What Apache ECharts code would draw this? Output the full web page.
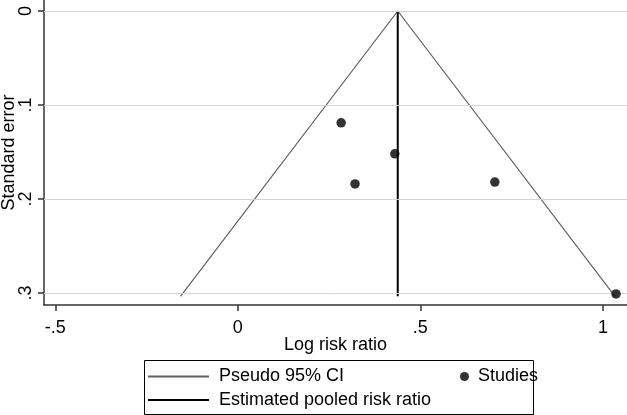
<!DOCTYPE html>
<html><head><meta charset="utf-8">
<script src="https://cdn.jsdelivr.net/npm/echarts@6/dist/echarts.min.js"></script>
<style>html,body{margin:0;padding:0;background:#fff}#c{width:627px;height:415px}</style>
</head><body><div id="c"></div>
<script>
// Data
const studyLogRR = [0.283, 0.430, 0.321, 0.704, 1.036];
const studySE    = [0.119, 0.152, 0.184, 0.182, 0.301];
const pooledLogRR = 0.438;
const maxSE = 0.3036;
const xTicks = [-0.5, 0, 0.5, 1];
const yTicks = [0, 0.1, 0.2, 0.3];
const xTickLabels = ['-.5', '0', '.5', '1'];
const yTickLabels = ['0', '.1', '.2', '.3'];

const studies = studyLogRR.map((x, i) => [x, studySE[i]]);
const funnel = [
  [pooledLogRR - 1.96 * maxSE, maxSE],
  [pooledLogRR, 0],
  [pooledLogRR + 1.96 * maxSE, maxSE]
];
const pooledLine = [[pooledLogRR, 0], [pooledLogRR, maxSE]];
const lab = (vals, labels) => v => { const i = vals.findIndex(t => Math.abs(t - v) < 1e-9); return i >= 0 ? labels[i] : ''; };

const FONT = 'Liberation Sans, Arial, sans-serif';
const chart = echarts.init(document.getElementById('c'), null, {renderer: 'canvas'});
chart.setOption({
  animation: false,
  backgroundColor: '#fff',
  grid: {left: 44, right: 0, top: 0, bottom: 110, containLabel: false, outerBoundsMode: 'none'},
  xAxis: {
    type: 'value', min: -0.531, max: 1.066,
    name: 'Log risk ratio', nameLocation: 'middle', nameGap: 40, nameMoveOverlap: false,
    nameTextStyle: {fontFamily: FONT, fontSize: 18, color: '#000', verticalAlign: 'middle'},
    axisLine: {onZero: false, lineStyle: {color: '#333', width: 1.5}},
    axisTick: {show: true, customValues: xTicks, length: 6, lineStyle: {color: '#333', width: 1.5}},
    axisLabel: {customValues: xTicks, formatter: lab(xTicks, xTickLabels), fontFamily: FONT, fontSize: 18, color: '#000', margin: 14},
    splitLine: {show: false}
  },
  yAxis: {
    type: 'value', inverse: true, min: -0.0117, max: 0.3128,
    name: 'Standard error', nameLocation: 'middle', nameGap: 35, nameRotate: 90, nameMoveOverlap: false,
    nameTextStyle: {fontFamily: FONT, fontSize: 18, color: '#000', verticalAlign: 'middle'},
    axisLine: {show: true, onZero: false, lineStyle: {color: '#333', width: 1.5}},
    axisTick: {show: true, customValues: yTicks, length: 6, lineStyle: {color: '#333', width: 1.5}},
    axisLabel: {customValues: yTicks, formatter: lab(yTicks, yTickLabels), rotate: 90, fontFamily: FONT, fontSize: 18, color: '#000', margin: 9},
    splitLine: {show: false}
  },
  legend: [
    {data: ['Pseudo 95% CI', 'Estimated pooled risk ratio'], orient: 'vertical', left: 147, top: 367.5, padding: 0,
     itemWidth: 61, itemHeight: 18, itemGap: 5.5,
     itemStyle: {color: 'rgba(0,0,0,0)', borderWidth: 0},
     textStyle: {fontFamily: FONT, fontSize: 18, lineHeight: 18, color: '#000', padding: [0, 0, 0, 5]}, selectedMode: false},
    {data: ['Studies'], orient: 'vertical', left: 460, top: 367.5, padding: 0,
     itemWidth: 9, itemHeight: 18, textStyle: {fontFamily: FONT, fontSize: 18, lineHeight: 18, color: '#000', padding: [0, 0, 0, 4]}, selectedMode: false}
  ],
  graphic: [{type: 'rect', left: 142, top: 358, shape: {width: 389, height: 54}, style: {fill: 'none', stroke: '#000', lineWidth: 1}, silent: true}],
  series: [
    {type: 'line', name: 'grid', data: [], silent: true,
     markLine: {silent: true, symbol: 'none', label: {show: false},
       lineStyle: {color: '#d4d4d4', width: 1, type: 'solid'},
       data: yTicks.map(v => ({yAxis: v}))}},
    {type: 'line', name: 'Pseudo 95% CI', data: funnel, symbol: 'none', lineStyle: {color: '#606060', width: 1.2}, itemStyle: {color: '#606060'}, z: 3},
    {type: 'line', name: 'Estimated pooled risk ratio', data: pooledLine, symbol: 'none', lineStyle: {color: '#000', width: 2}, itemStyle: {color: '#000'}, z: 4},
    {type: 'scatter', name: 'Studies', data: studies, symbol: 'circle', symbolSize: 9.5, itemStyle: {color: '#000'}, z: 5}
  ]
});
</script></body></html>
